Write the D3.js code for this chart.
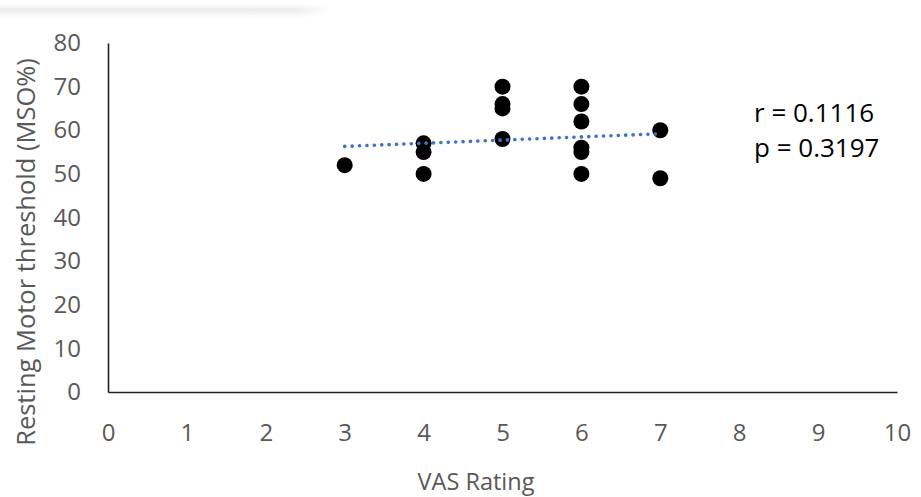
<!DOCTYPE html>
<html>
<head>
<meta charset="utf-8">
<script src="https://cdn.jsdelivr.net/npm/d3@7"></script>
<style>
  body { margin: 0; background: #fff; }
  svg { display: block; }
  text { font-family: "Open Sans", sans-serif; }
</style>
</head>
<body>
<div id="chart"></div>
<script>
// VAS rating vs resting motor threshold
var vasRating = [3, 4, 4, 4, 5, 5, 5, 5, 6, 6, 6, 6, 6, 6, 7, 7];
var motorThreshold = [52, 57, 55, 50, 70, 66, 65, 58, 70, 66, 62, 56, 55, 50, 60, 49];

// linear trendline end points (as drawn)
var trendX = [3, 7];
var trendY = [56.3, 59.2];

var xTicks = [0, 1, 2, 3, 4, 5, 6, 7, 8, 9, 10];
var yTicks = [0, 10, 20, 30, 40, 50, 60, 70, 80];

var statsText = ["r = 0.1116", "p = 0.3197"];

var width = 921, height = 497;
var margin = { left: 108, right: 24, top: 43, bottom: 105 };

var svg = d3.select("#chart").append("svg")
  .attr("width", width)
  .attr("height", height);

// faint shadow strip at the top left of the screenshot
var defs = svg.append("defs");
var grad = defs.append("linearGradient").attr("id", "shade")
  .attr("x1", 0).attr("y1", 0).attr("x2", 0).attr("y2", 1);
grad.append("stop").attr("offset", "0%").attr("stop-color", "#fff");
grad.append("stop").attr("offset", "40%").attr("stop-color", "#ececec");
grad.append("stop").attr("offset", "100%").attr("stop-color", "#fff");
var gradH = defs.append("linearGradient").attr("id", "shadeMask")
  .attr("x1", 0).attr("y1", 0).attr("x2", 1).attr("y2", 0);
gradH.append("stop").attr("offset", "0%").attr("stop-color", "#fff");
gradH.append("stop").attr("offset", "90%").attr("stop-color", "#fff");
gradH.append("stop").attr("offset", "100%").attr("stop-color", "#000");
defs.append("mask").attr("id", "fadeRight")
  .append("rect").attr("x", 0).attr("y", 0).attr("width", 330).attr("height", 20)
  .attr("fill", "url(#shadeMask)");
svg.append("rect")
  .attr("x", 0).attr("y", 4).attr("width", 330).attr("height", 14)
  .attr("fill", "url(#shade)")
  .attr("mask", "url(#fadeRight)");

var x = d3.scaleLinear().domain([0, 10]).range([margin.left, width - margin.right]);
var y = d3.scaleLinear().domain([0, 80]).range([height - margin.bottom, margin.top]);

// axes
var xAxis = svg.append("g")
  .attr("transform", "translate(0," + y(0) + ")")
  .call(d3.axisBottom(x).tickValues(xTicks).tickSize(0).tickFormat(d3.format("d")));
var yAxis = svg.append("g")
  .attr("transform", "translate(" + x(0) + ",0)")
  .call(d3.axisLeft(y).tickValues(yTicks).tickSize(0).tickPadding(27).tickFormat(d3.format("d")));

[xAxis, yAxis].forEach(function(g) {
  g.select(".domain").attr("stroke", "#222").attr("stroke-width", 1.6);
  g.selectAll("text")
    .attr("fill", "#595959")
    .style("font-size", "24px")
    .style("font-family", "'Open Sans', sans-serif");
});
xAxis.selectAll("text").attr("dy", null).attr("y", 49);

// axis titles
svg.append("text")
  .attr("x", 476).attr("y", 490)
  .attr("text-anchor", "middle")
  .attr("fill", "#595959")
  .style("font-size", "23.5px")
  .text("VAS Rating");

svg.append("text")
  .attr("transform", "translate(35,252) rotate(-90)")
  .attr("text-anchor", "middle")
  .attr("fill", "#595959")
  .style("font-size", "25.5px")
  .text("Resting Motor threshold (MSO%)");

// points
svg.append("g").selectAll("circle")
  .data(vasRating)
  .enter().append("circle")
  .attr("cx", function(d) { return x(d); })
  .attr("cy", function(d, i) { return y(motorThreshold[i]); })
  .attr("r", 8)
  .attr("fill", "#000");

// dotted trendline
var line = d3.line()
  .x(function(d) { return x(d); })
  .y(function(d, i) { return y(trendY[i]); });
svg.append("path")
  .datum(trendX)
  .attr("d", line)
  .attr("fill", "none")
  .attr("stroke", "#4472C4")
  .attr("stroke-width", 3.6)
  .attr("stroke-linecap", "round")
  .attr("stroke-dasharray", "0.1 7.3");

// stats annotation
svg.append("g").selectAll("text")
  .data(statsText)
  .enter().append("text")
  .attr("x", 754)
  .attr("y", function(d, i) { return 122 + i * 35; })
  .attr("fill", "#000")
  .style("font-size", "26px")
  .text(function(d) { return d; });
</script>
</body>
</html>
